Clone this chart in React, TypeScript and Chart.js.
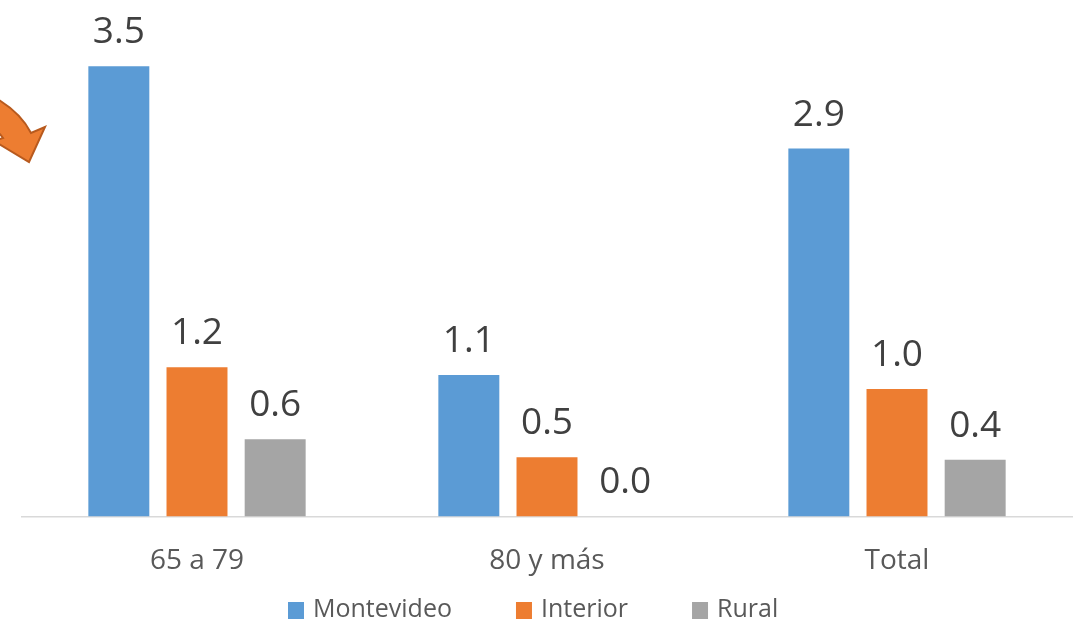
import React, { useEffect, useRef } from "react";
import { Chart, registerables } from "chart.js";

Chart.register(...registerables);

const categories = ["65 a 79", "80 y más", "Total"];
const montevideo = [3.5, 1.1, 2.86];
const interior = [1.16, 0.46, 0.99];
const rural = [0.6, 0.0, 0.44];
const seriesNames = ["Montevideo", "Interior", "Rural"];
const seriesColors = ["#5B9BD5", "#ED7D31", "#A5A5A5"];

const FONT = "'Open Sans', 'DejaVu Sans', sans-serif";

const valueLabels = {
  id: "valueLabels",
  afterDatasetsDraw(chart: any) {
    const ctx = chart.ctx;
    ctx.save();
    ctx.font = `37px ${FONT}`;
    ctx.fillStyle = "#404040";
    ctx.textAlign = "center";
    ctx.textBaseline = "alphabetic";
    chart.data.datasets.forEach((ds: any, i: number) => {
      const meta = chart.getDatasetMeta(i);
      meta.data.forEach((bar: any, j: number) => {
        const v = ds.data[j] as number;
        ctx.fillText(v.toFixed(1), bar.x, bar.y - 23);
      });
    });
    ctx.restore();
  },
};

const bottomLegend = {
  id: "bottomLegend",
  afterDraw(chart: any) {
    const ctx = chart.ctx;
    ctx.save();
    ctx.font = `25px ${FONT}`;
    ctx.textBaseline = "middle";
    ctx.textAlign = "left";
    const cy = 610;
    const gapBox = 9;
    const gapItem = 64;
    let x = 288;
    chart.data.datasets.forEach((ds: any) => {
      ctx.fillStyle = ds.backgroundColor;
      ctx.fillRect(x, cy - 8, 16, 17);
      x += 16 + gapBox;
      ctx.fillStyle = "#595959";
      ctx.fillText(ds.label, x, cy);
      x += ctx.measureText(ds.label).width + gapItem;
    });
    ctx.restore();
  },
};

const arrowDecoration = {
  id: "arrowDecoration",
  afterDraw(chart: any) {
    const ctx = chart.ctx;
    ctx.save();
    ctx.beginPath();
    ctx.moveTo(-20, 90);
    ctx.quadraticCurveTo(18, 107, 31, 133);
    ctx.lineTo(45, 127);
    ctx.lineTo(29, 162);
    ctx.lineTo(-6, 141);
    ctx.lineTo(3, 138);
    ctx.quadraticCurveTo(-5, 127, -20, 120);
    ctx.closePath();
    ctx.fillStyle = "#ED7D31";
    ctx.fill();
    ctx.strokeStyle = "#B85A1E";
    ctx.lineWidth = 2;
    ctx.stroke();
    ctx.restore();
  },
};

export default function App() {
  const ref = useRef<HTMLCanvasElement>(null);
  useEffect(() => {
    if (!ref.current) return;
    const chart = new Chart(ref.current, {
      type: "bar",
      data: {
        labels: categories,
        datasets: [montevideo, interior, rural].map((d, i) => ({
          label: seriesNames[i],
          data: d,
          backgroundColor: seriesColors[i],
          borderWidth: 0,
          categoryPercentage: 0.67,
          barPercentage: 0.78,
        })),
      },
      options: {
        animation: false,
        responsive: false,
        maintainAspectRatio: false,
        layout: { padding: { left: 22, right: 11, top: 2, bottom: 17 } },
        scales: {
          x: {
            grid: { display: false, drawTicks: false },
            border: { display: true, color: "#D9D9D9", width: 1.5 },
            ticks: {
              color: "#595959",
              font: { family: FONT, size: 28 },
              padding: 28,
            },
          },
          y: {
            display: false,
            min: 0,
            max: 4.0,
          },
        },
        plugins: {
          legend: { display: false },
          tooltip: { enabled: false },
        },
      },
      plugins: [valueLabels, bottomLegend, arrowDecoration],
    });
    return () => chart.destroy();
  }, []);
  return (
    <div style={{ position: "fixed", left: 0, top: 0, width: 1083, height: 623, background: "#fff" }}>
      <canvas ref={ref} width={1083} height={623} />
    </div>
  );
}
